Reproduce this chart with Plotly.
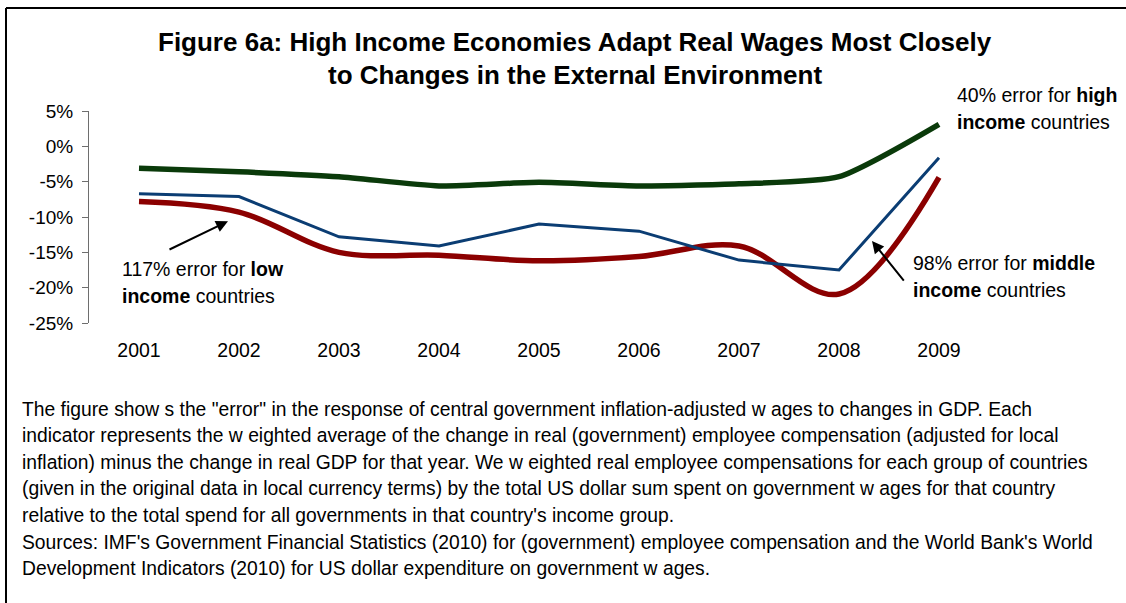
import plotly.graph_objects as go

# Years on the category axis
years = ["2001", "2002", "2003", "2004", "2005", "2006", "2007", "2008", "2009"]

# "Error" (real wage change minus real GDP change), percent
high_income = [-3.1, -3.6, -4.3, -5.6, -5.1, -5.6, -5.3, -4.3, 3.1]
middle_income = [-6.7, -7.1, -12.8, -14.1, -11.0, -12.0, -16.1, -17.5, -1.6]
low_income = [-7.8, -9.3, -15.0, -15.4, -16.2, -15.6, -14.1, -20.9, -4.4]

y_ticks = [5, 0, -5, -10, -15, -20, -25]
y_tick_text = ["5%", "0%", "-5%", "-10%", "-15%", "-20%", "-25%"]

title_lines = [
    "Figure 6a: High Income Economies Adapt Real Wages Most Closely",
    "to Changes in the External Environment",
]

caption_lines = [
    'The figure show s the "error" in the response of central government inflation-adjusted w ages to changes in GDP. Each',
    "indicator represents the w eighted average of the change in real (government) employee compensation (adjusted for local",
    "inflation) minus the change in real GDP for that year. We w eighted real employee compensations for each group of countries",
    "(given in the original data in local currency terms) by the total US dollar sum spent on government w ages for that country",
    "relative to the total spend for all governments in that country's income group.",
    "Sources: IMF's Government Financial Statistics (2010) for (government) employee compensation and the World Bank's World",
    "Development Indicators (2010) for US dollar expenditure on government w ages.",
]

FONT = "Liberation Sans, Arial, sans-serif"
W, H = 1126, 603
L, R, T, B = 89, 137, 111, 280
PW, PH = W - L - R, H - T - B
Y_MIN, Y_MAX = -25, 5


def px_x(px):
    return (px - L) / PW


def px_y(py):
    return (H - B - py) / PH


xs = list(range(len(years)))

fig = go.Figure()
fig.add_trace(go.Scatter(x=xs, y=low_income, mode="lines", name="Low income",
                         line=dict(color="#8b0000", width=5.5, shape="spline", smoothing=1.0)))
fig.add_trace(go.Scatter(x=xs, y=middle_income, mode="lines", name="Middle income",
                         line=dict(color="#0b3d73", width=3)))
fig.add_trace(go.Scatter(x=xs, y=high_income, mode="lines", name="High income",
                         line=dict(color="#0a3a0a", width=5.5, shape="spline", smoothing=0.6)))

x_range = [-0.5, len(years) - 0.5]
boundaries = [i - 0.5 for i in range(len(years) + 1)]

annotations = []
for i, line in enumerate(title_lines):
    annotations.append(dict(text=f"<b>{line}</b>", xref="paper", yref="paper",
                            x=px_x(575), y=px_y([42, 75][i]), xanchor="center", yanchor="middle",
                            showarrow=False, font=dict(family=FONT, size=26, color="black")))

caption_y = [409, 435, 462, 488, 515, 542, 568]
for line, cy in zip(caption_lines, caption_y):
    annotations.append(dict(text=line, xref="paper", yref="paper", x=px_x(20), y=px_y(cy),
                            xanchor="left", yanchor="middle", showarrow=False,
                            font=dict(family=FONT, size=19.3, color="black")))

series_labels = [
    ("40% error for <b>high</b>", "<b>income</b> countries", 955, 95, 122),
    ("98% error for <b>middle</b>", "<b>income</b> countries", 911, 263, 290),
    ("117% error for <b>low</b>", "<b>income</b> countries", 120, 269, 296),
]
for l1, l2, lx, y1, y2 in series_labels:
    for txt, ly in ((l1, y1), (l2, y2)):
        annotations.append(dict(text=txt, xref="paper", yref="paper", x=px_x(lx), y=px_y(ly),
                                xanchor="left", yanchor="middle", showarrow=False,
                                font=dict(family=FONT, size=19.5, color="black")))

# Pointer arrows for the low and middle income labels
for head, tail in (((0.89, -10.6), (0.29, -14.7)), ((7.33, -13.4), (7.66, -19.2))):
    annotations.append(dict(text="", x=head[0], y=head[1], ax=tail[0], ay=tail[1],
                            xref="x", yref="y", axref="x", ayref="y", showarrow=True,
                            arrowhead=2, arrowsize=1.2, arrowwidth=2, arrowcolor="black"))

shapes = [
    dict(type="line", xref="paper", yref="paper", x0=px_x(6), x1=px_x(W + 5),
         y0=px_y(8), y1=px_y(8), line=dict(color="black", width=2)),
    dict(type="line", xref="paper", yref="paper", x0=px_x(6), x1=px_x(6),
         y0=px_y(8), y1=px_y(H + 5), line=dict(color="black", width=2)),
]

fig.update_layout(
    width=W, height=H,
    margin=dict(l=L, r=R, t=T, b=B, pad=0),
    paper_bgcolor="white", plot_bgcolor="white",
    showlegend=False,
    font=dict(family=FONT, size=19, color="black"),
    xaxis=dict(range=x_range, tickvals=xs, ticktext=years, showline=False, ticks="",
               showgrid=False, zeroline=False, ticklabelstandoff=13,
               tickfont=dict(family=FONT, size=19.5, color="black")),
    xaxis2=dict(range=x_range, overlaying="x", anchor="free",
                position=(0 - Y_MIN) / (Y_MAX - Y_MIN),
                tickvals=boundaries, showticklabels=False, ticks="outside", ticklen=5,
                tickcolor="#bdbdbd", showline=True, linecolor="#bdbdbd", linewidth=1,
                showgrid=False, zeroline=False),
    yaxis=dict(range=[Y_MIN, Y_MAX], tickvals=y_ticks, ticktext=y_tick_text,
               showline=True, linecolor="#6e6e6e", linewidth=1, ticks="outside", ticklen=6,
               tickcolor="#6e6e6e", showgrid=False, zeroline=False, ticklabelstandoff=5,
               tickfont=dict(family=FONT, size=19, color="black")),
    annotations=annotations,
    shapes=shapes,
)

fig.write_html("out.html")
